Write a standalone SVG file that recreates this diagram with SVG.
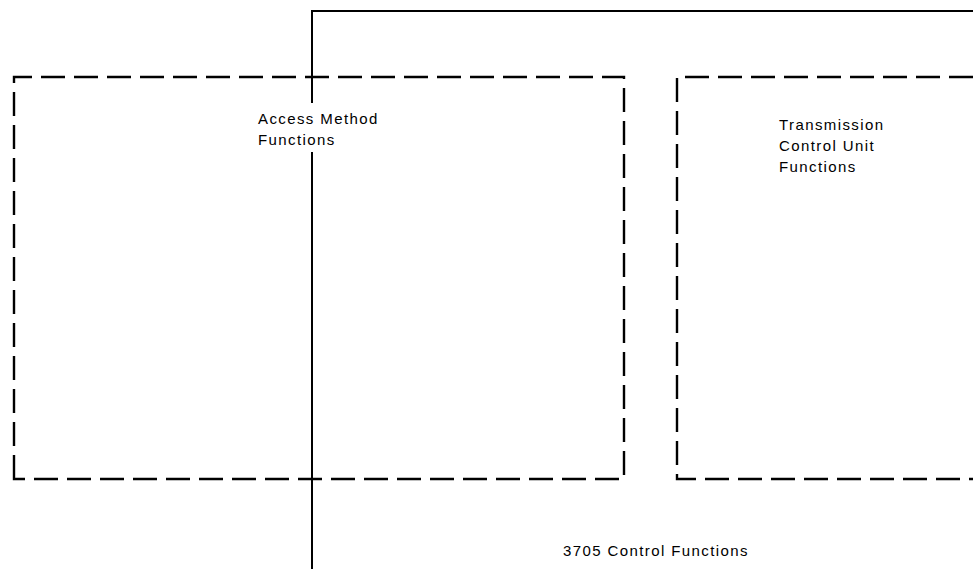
<svg xmlns="http://www.w3.org/2000/svg" width="973" height="569" viewBox="0 0 973 569">
<style>
.box{fill:none;stroke:#000;stroke-width:2.4;stroke-dasharray:24 9}
.solid{fill:none;stroke:#000;stroke-width:2}
.t{font-family:"Liberation Sans",Arial,sans-serif;font-size:15px;letter-spacing:1.4px;fill:#000}
</style>
<rect width="973" height="569" fill="#fff"/>
<g id="control-3705">
<path class="solid" d="M312,569 V152 M312,103 V11 H973"/>
<text class="t" x="563" y="556">3705 Control Functions</text>
</g>
<g id="access-method">
<path class="box" d="M14,479 V77 H624 V479 Z"/>
<text class="t" x="258" y="124">Access Method</text>
<text class="t" x="258" y="145">Functions</text>
</g>
<g id="tcu">
<path class="box" d="M973,77 H677 V479 H973"/>
<text class="t" x="779" y="130">Transmission</text>
<text class="t" x="779" y="151">Control Unit</text>
<text class="t" x="779" y="172">Functions</text>
</g>
<g id="connectors"></g>
</svg>
